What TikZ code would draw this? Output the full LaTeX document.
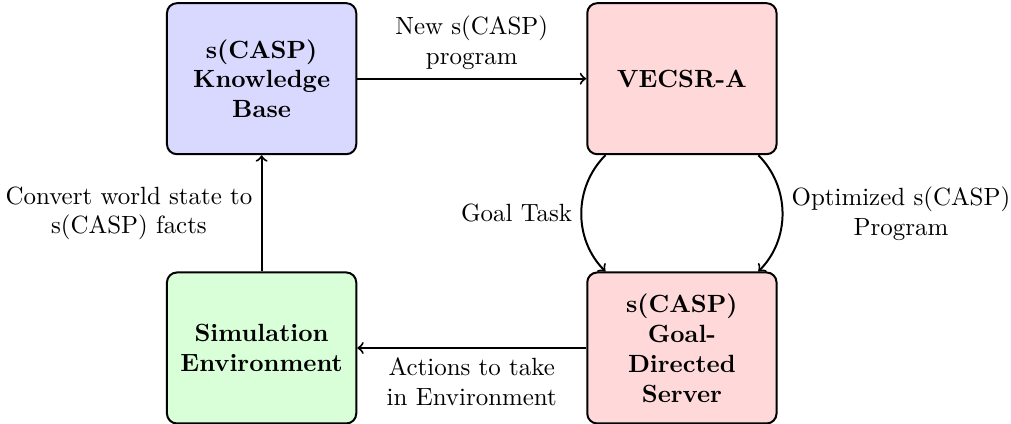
\documentclass[tikz,border=0pt]{standalone}
\usetikzlibrary{arrows, positioning}

\begin{document}
\begin{tikzpicture}[node distance=1.64cm and 3.23cm,
            box/.style={rectangle, draw, thick, rounded corners, align=center,
                minimum width=2.67cm, minimum height=2.13cm, text width=2.4cm,
                font=\bfseries},
            flow/.style={->, thick}]
        \useasboundingbox (-3.69,-4.87) rectangle (10.57,1.11);
        \node[box, fill=blue!15] (kb) {s(CASP)\\Knowledge\\Base};
        \node[box, fill=red!15, right=of kb] (vecsr) {VECSR-A};
        \node[box, fill=green!15, below=of kb] (sim) {Simulation\\Environment};
        \node[box, fill=red!15, below=of vecsr] (server) {s(CASP)\\Goal-\\Directed\\Server};
        \draw[flow] (kb) -- node[above, align=center] {New s(CASP)\\program} (vecsr);
        \draw[flow] (vecsr) to[bend right=45] node[left] {Goal Task} (server);
        \draw[flow] (vecsr) to[bend left=45] node[right, align=center] {Optimized s(CASP)\\Program} (server);
        \draw[flow] (server) -- node[below, align=center] {Actions to take\\in Environment} (sim);
        \draw[flow] (sim) -- node[left, align=center] {Convert world state to\\s(CASP) facts} (kb);
    \end{tikzpicture}
\end{document}
